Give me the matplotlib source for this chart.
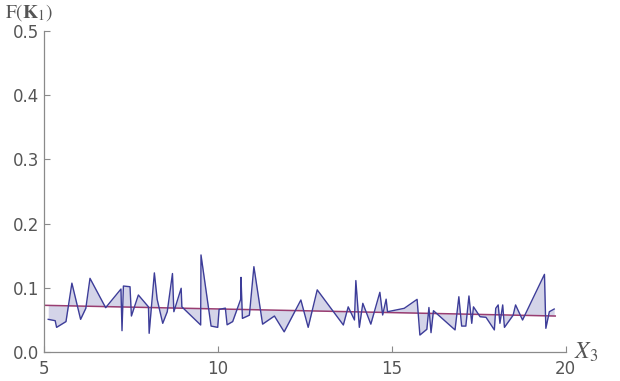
import numpy as np
import matplotlib
matplotlib.use('Agg')
import matplotlib.pyplot as plt

# sampled response along X3
x3 = [5.13, 5.33, 5.37, 5.64, 5.81, 6.06, 6.21, 6.33, 6.78, 7.22, 7.25, 7.29,
      7.48, 7.52, 7.72, 8.01, 8.03, 8.18, 8.26, 8.42, 8.55, 8.70, 8.74, 8.95,
      8.97, 9.51, 9.52, 9.81, 10.00, 10.04, 10.22, 10.27, 10.43, 10.66, 10.67,
      10.71, 10.91, 11.04, 11.29, 11.63, 11.91, 12.39, 12.60, 12.86, 13.61,
      13.75, 13.93, 13.97, 14.07, 14.17, 14.40, 14.66, 14.74, 14.84, 14.88,
      15.36, 15.73, 15.81, 16.01, 16.07, 16.13, 16.20, 16.82, 16.93, 17.01,
      17.13, 17.22, 17.30, 17.35, 17.54, 17.71, 17.95, 17.99, 18.06, 18.11,
      18.19, 18.24, 18.49, 18.56, 18.76, 19.39, 19.43, 19.53, 19.67]
fk1 = [0.0505, 0.0484, 0.038, 0.047, 0.107, 0.0505, 0.0677, 0.1145, 0.0687,
       0.0978, 0.0328, 0.1025, 0.1014, 0.0557, 0.0885, 0.070, 0.0287, 0.123,
       0.0817, 0.0443, 0.0624, 0.122, 0.0624, 0.099, 0.070, 0.0417, 0.151,
       0.040, 0.038, 0.066, 0.068, 0.042, 0.047, 0.0817, 0.116, 0.052, 0.057,
       0.1327, 0.043, 0.0557, 0.031, 0.0807, 0.038, 0.0965, 0.0417, 0.070,
       0.0495, 0.111, 0.038, 0.0755, 0.043, 0.0927, 0.0573, 0.082, 0.0624,
       0.0677, 0.0817, 0.026, 0.035, 0.069, 0.0297, 0.064, 0.034, 0.0858,
       0.040, 0.040, 0.087, 0.0443, 0.070, 0.0546, 0.0537, 0.034, 0.0677,
       0.073, 0.0443, 0.073, 0.038, 0.057, 0.073, 0.0495, 0.1207, 0.0365,
       0.0624, 0.0666]

# linear trend endpoints
trend_x = [5.0, 19.7]
trend_y = [0.0724, 0.0557]

line_col = (0.24, 0.24, 0.6)
trend_col = (0.6, 0.24, 0.442)
axis_col = '#8a8a8a'
text_col = '#555555'

plt.rcParams['mathtext.fontset'] = 'stix'

fig = plt.figure(figsize=(6.2, 3.81), dpi=100)
ax = fig.add_axes([0.0705, 0.0769, 0.8419, 0.8409])

xs = np.array(x3)
ys = np.array(fk1)
ts = np.interp(xs, trend_x, trend_y)

ax.fill_between(xs, ys, ts, color=line_col, alpha=0.22, linewidth=0)
ax.plot(trend_x, trend_y, color=trend_col, linewidth=1.1)
ax.plot(xs, ys, color=line_col, linewidth=1.0)

ax.set_xlim(5, 20)
ax.set_ylim(0, 0.5)
ax.set_xticks([5, 10, 15, 20])
ax.set_yticks([0.0, 0.1, 0.2, 0.3, 0.4, 0.5])
ax.set_yticklabels(['0.0', '0.1', '0.2', '0.3', '0.4', '0.5'])

for side in ['top', 'right']:
    ax.spines[side].set_visible(False)
for side in ['left', 'bottom']:
    ax.spines[side].set_color(axis_col)
    ax.spines[side].set_linewidth(0.9)

ax.tick_params(direction='in', length=4, width=0.8, color=axis_col,
               labelcolor=text_col, labelsize=12)
ax.tick_params(axis='x', pad=6)
ax.tick_params(axis='y', pad=3)

fig.text(0.008, 0.995, r'$\mathrm{F}(\mathbf{K}_1)$', fontsize=14,
         color=text_col, va='top')
fig.text(0.925, 0.058, r'$X_3$', fontsize=17, color=text_col)

fig.savefig('out.png', dpi=100)
